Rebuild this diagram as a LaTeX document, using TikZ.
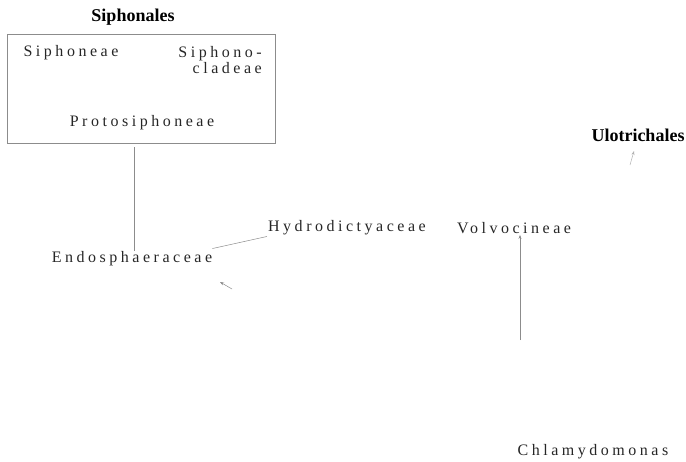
\documentclass[tikz,border=0pt]{standalone}
\usepackage{fontspec}
\setmainfont{Liberation Serif}
\usetikzlibrary{arrows.meta}
\tikzset{
  sp/.style={font=\fontsize{16}{16}\selectfont\addfontfeature{LetterSpace=22}, text=black!85, inner sep=1pt},
  ttl/.style={font=\fontsize{18}{19}\selectfont\bfseries, text=black, inner sep=1pt},
  ln/.style={draw=black!45, line width=0.5pt},
  arr/.style={ln, -{Stealth[length=4pt,width=3pt]}}
}
\begin{document}
\begin{tikzpicture}[x=1pt,y=-1pt]
\useasboundingbox (0,0) rectangle (686,461);
\node[ttl] (siphonales) at (133,17) {Siphonales};
\node[draw=black!45, line width=0.5pt, minimum width=268pt, minimum height=109pt, inner sep=0pt] (box) at (141,88.5) {};
\node[sp] (siphoneae) at (71,53) {Siphoneae};
\node[sp, align=right, anchor=east] (siphonocl) at (263,60) {Siphono-\\cladeae};
\node[sp] (proto) at (142,123) {Protosiphoneae};
\node[sp] (endo) at (132,259) {Endosphaeraceae};
\node[sp] (hydro) at (347,228) {Hydrodictyaceae};
\node[sp] (volvo) at (514,228) {Volvocineae};
\node[ttl] (ulo) at (638,135) {Ulotrichales};
\node[sp] (chlamy) at (593,452) {Chlamydomonas};
\coordinate (vbot) at (520,340);
\coordinate (ebot) at (232,289);
\coordinate (ubot) at (630,165);
\coordinate (utop) at (634,151);
\draw[ln] (box.south -| 134,0) ++(0,4) -- (endo.north -| 134,0) ++(0,-2);
\draw[ln] (endo.north east) ++(-1,-2) -- (hydro.south west);
\draw[arr] (vbot) -- (vbot |- volvo.south);
\draw[arr] (ebot) -- (220,282);
\draw[arr, draw=black!30] (ubot) -- (utop);
\end{tikzpicture}
\end{document}
